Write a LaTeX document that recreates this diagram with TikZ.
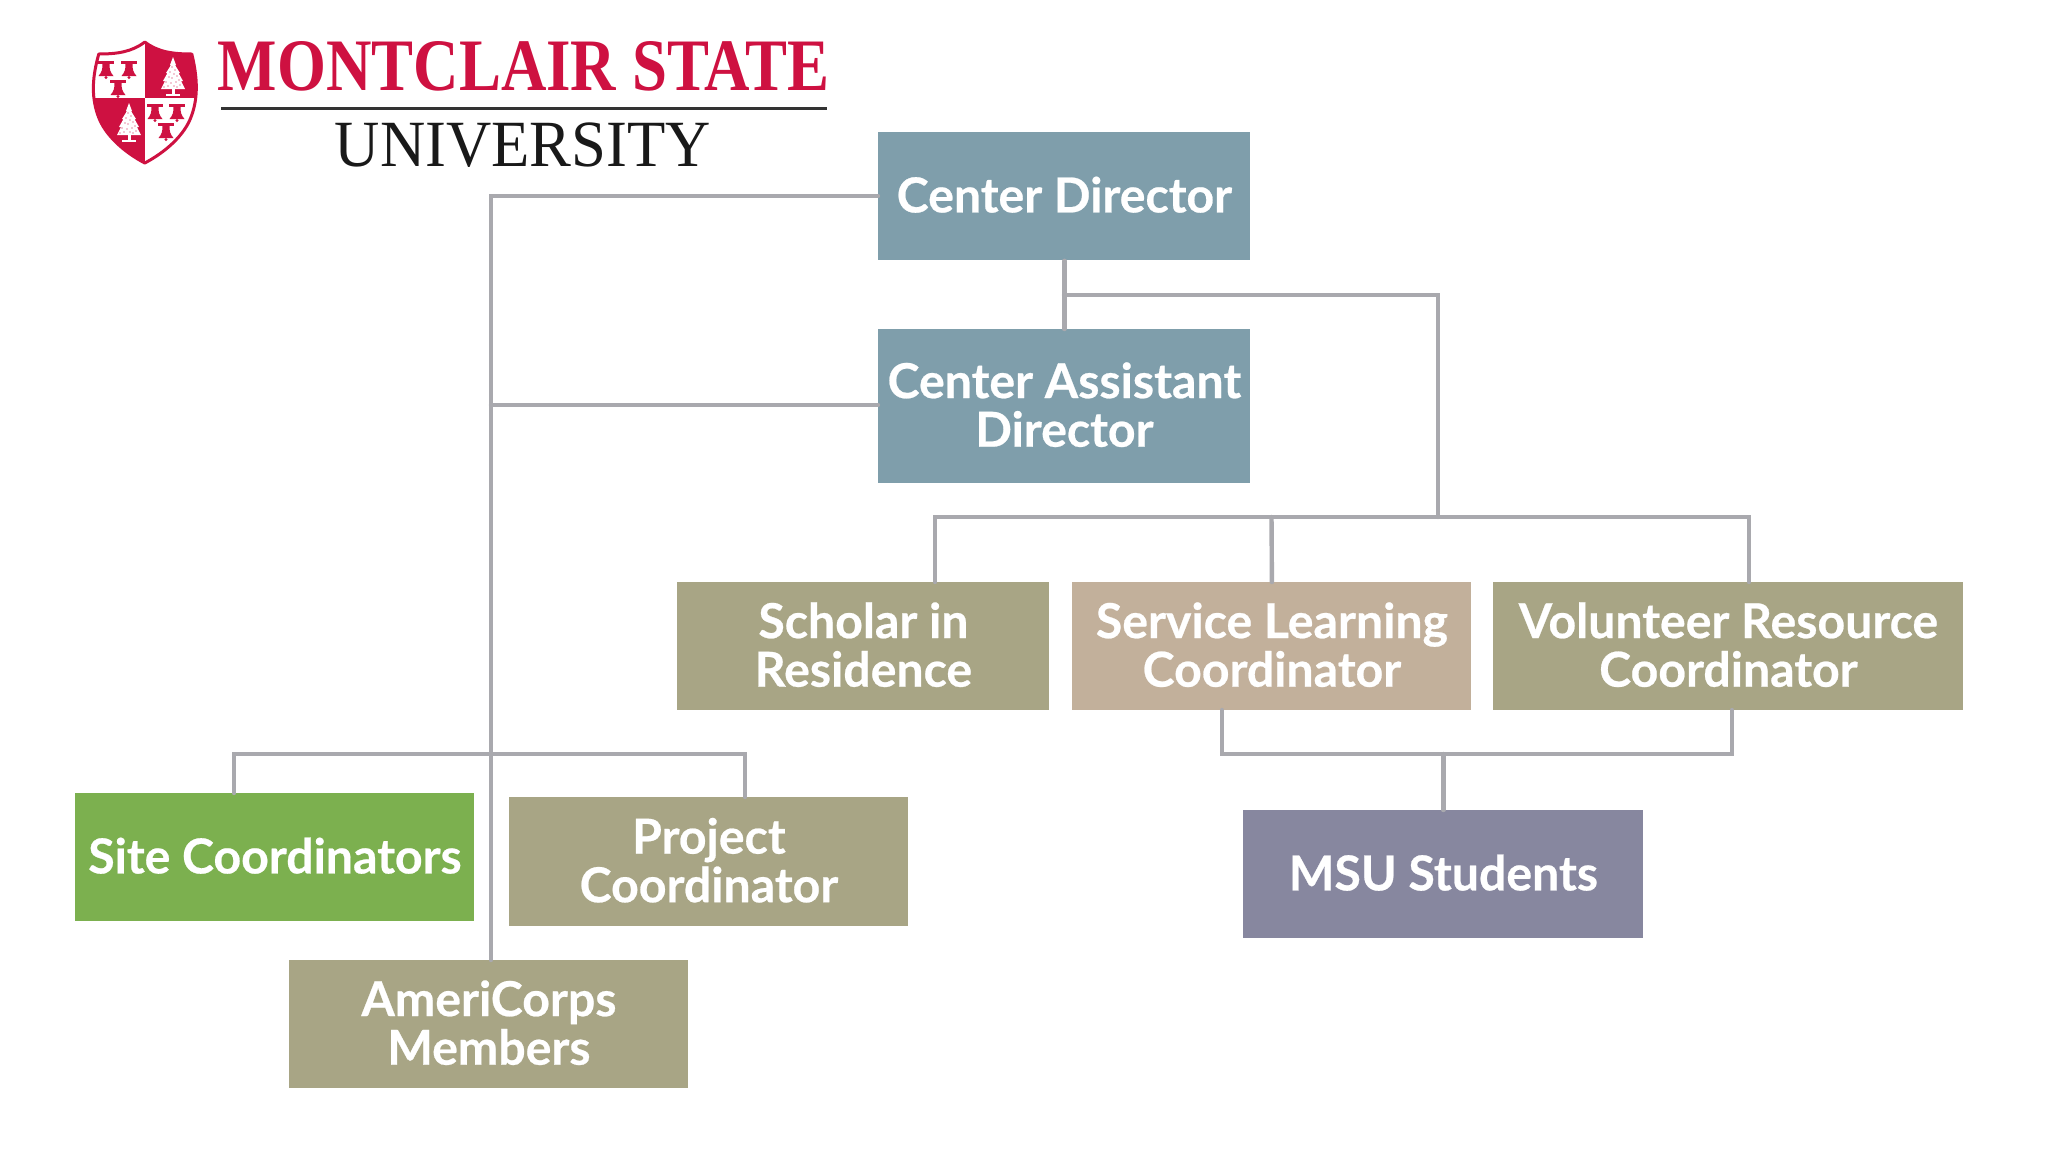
\documentclass[tikz,border=0pt]{standalone}
\usepackage{fontspec}
\setmainfont{Lato}[BoldFeatures={FakeBold=0.5}]
\newfontfamily\logoserif{Liberation Serif}
\definecolor{msured}{HTML}{CE1141}
\definecolor{linegray}{HTML}{A9A9AE}
\definecolor{bluebox}{HTML}{7F9EAB}
\definecolor{olivebox}{HTML}{A8A585}
\definecolor{tanbox}{HTML}{C2B09B}
\definecolor{greenbox}{HTML}{7CB04F}
\definecolor{slatebox}{HTML}{87879F}
\tikzset{
  x=0.5pt,y=-0.5pt,
  orgbox/.style={fill=#1,draw=none,text=white,align=center,inner sep=0pt,
    font=\bfseries\fontsize{24.1}{24.3}\selectfont,anchor=north west},
  link/.style={draw=linegray,line width=2.2pt,line cap=round,line join=miter},
  bellshape/.pic={
    \fill[msured] (-8,-8.5) rectangle (8,-5);
    \fill[msured] (-3.5,-5) .. controls (-3.5,0) and (-4,3) .. (-7.5,7) -- (7.5,7) .. controls (4,3) and (3.5,0) .. (3.5,-5) -- cycle;
    \fill[msured] (0,8.5) circle (1.6);
  },
  treeshape/.pic={
    \fill[white] (0,-19) -- (3,-11) -- (2,-11) -- (7,-3) -- (5.5,-3) -- (10,5) -- (8,5) -- (12,13) -- (-12,13) -- (-8,5) -- (-10,5) -- (-5.5,-3) -- (-7,-3) -- (-2,-11) -- (-3,-11) -- cycle;
    \fill[white] (-1.5,13) rectangle (1.5,18);
    \fill[white] (-7,18) rectangle (7,19.5);
    \foreach \dx/\dy in {-1/-9,2/-6,-3/-4,1/-2,4/0,-4/1,-1/2,6/4,-7/6,3/6,-2/7,7/9,-5/10,1/10,-9/11,4/11}
      \fill[msured] (\dx,\dy) circle (0.55);
  }
}
\newcommand{\orgboxat}[7]{\node[orgbox=#2,minimum width=#5*0.5pt,minimum height=#6*0.5pt] (#1) at (#3,#4) {\rule{0pt}{24pt}#7\rule[-8pt]{0pt}{0pt}};}
\begin{document}
\begin{tikzpicture}
\useasboundingbox (0,0) rectangle (2048,1152);
\fill[white] (0,0) rectangle (2048,1152);

% boxes
\orgboxat{cd}{bluebox}{878}{132}{372}{128}{Center Director}
\orgboxat{cad}{bluebox}{878}{329}{372}{154}{Center Assistant\\Director}
\orgboxat{sch}{olivebox}{677}{582}{372}{128}{Scholar in\\Residence}
\orgboxat{slc}{tanbox}{1072}{582}{399}{128}{Service Learning\\Coordinator}
\orgboxat{vrc}{olivebox}{1493}{582}{470}{128}{Volunteer Resource\\Coordinator}
\orgboxat{site}{greenbox}{75}{793}{399}{128}{Site Coordinators}
\orgboxat{proj}{olivebox}{509}{797}{399}{129}{Project\\Coordinator}
\orgboxat{ameri}{olivebox}{289}{960}{399}{128}{AmeriCorps\\Members}
\orgboxat{msu}{slatebox}{1243}{810}{400}{128}{MSU Students}

% junctions
\coordinate (spinetop) at (491,196);
\coordinate (spineasst) at (491,405);
\coordinate (spinebus) at (491,754);
\coordinate (spineend) at (491,960);
\coordinate (busl) at (234,754);
\coordinate (busr) at (745,754);
\coordinate (sitetop) at (234,793);
\coordinate (projtop) at (745,797);
\coordinate (cdtap) at (1064,295);
\coordinate (cdcorner) at (1438,295);
\coordinate (stafftap) at (1438,517);
\coordinate (staffl) at (935,517);
\coordinate (staffm) at (1271.5,517);
\coordinate (staffr) at (1749,517);
\coordinate (schtop) at (935,582);
\coordinate (vrctop) at (1749,582);
\coordinate (slcbot) at (1222,710);
\coordinate (slclow) at (1222,754);
\coordinate (vrcbot) at (1732,710);
\coordinate (vrclow) at (1732,754);
\coordinate (msutap) at (1443,754);

\draw[link] (cd.west |- spinetop) -- (spinetop) -- (spineend);
\draw[link] (cad.west |- spineasst) -- (spineasst);
\draw[link] (sitetop) -- (busl) -- (busr) -- (projtop);
\draw[link] (cd.south) -- (cad.north);
\draw[link] (cdtap) -- (cdcorner) -- (stafftap);
\draw[link] (schtop) -- (staffl) -- (staffr) -- (vrctop);
\draw[link] (staffm) -- (slc.north);
\draw[link] (slcbot) -- (slclow) -- (vrclow) -- (vrcbot);
\draw[link] (msu.north |- msutap) -- (msu.north);

% logo: shield
\begin{scope}[xshift=0.4pt]
\def\shield{(144,42) .. controls (131,52) and (116,54) .. (98,54) .. controls (92,75) and (90,95) .. (97,115) .. controls (104,136) and (125,153) .. (144,163) .. controls (163,153) and (184,136) .. (191,115) .. controls (198,95) and (196,75) .. (191,54) .. controls (172,54) and (157,52) .. (144,42) -- cycle}
\fill[white] \shield;
\begin{scope}
\clip \shield;
\fill[msured] (144,30) rectangle (210,98);
\fill[msured] (80,98) rectangle (144,175);
\end{scope}
\draw[msured,line width=1.5pt,line join=round] \shield;
\end{scope}
\pic at (106,69) {bellshape};
\pic at (129,69) {bellshape};
\pic at (118,88) {bellshape};
\pic at (155,112) {bellshape};
\pic at (177,112) {bellshape};
\pic at (166,131) {bellshape};
\pic at (173,76) {treeshape};
\pic at (129,122) {treeshape};

% logo: wordmark
\node[anchor=center,inner sep=0pt,text=msured,xscale=0.85] (wordmark) at (523.5,66.5)
  {\logoserif\bfseries\fontsize{37}{37}\selectfont MONTCLAIR STATE};
\coordinate (rulel) at (221,108);
\coordinate (ruler) at (827,108);
\draw[black!80,line width=1.5pt] (rulel) -- (ruler);
\node[anchor=center,inner sep=0pt,text=black!90,xscale=0.95] (wordmark2) at (523,145)
  {\logoserif\fontsize{33}{33}\selectfont UNIVERSITY};
\end{tikzpicture}
\end{document}
